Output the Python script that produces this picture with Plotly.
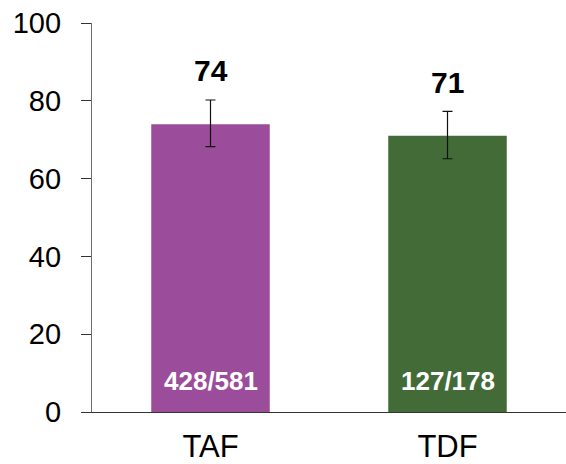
import plotly.graph_objects as go

# Response rates by regimen
categories = ["TAF", "TDF"]
rates = [74, 71]
ci_low = [68.2, 65.1]
ci_high = [80.2, 77.3]
counts = ["428/581", "127/178"]
bar_colors = ["#9B4D9B", "#426B38"]

err_plus = [h - v for h, v in zip(ci_high, rates)]
err_minus = [v - l for v, l in zip(rates, ci_low)]

fig = go.Figure()
fig.add_trace(go.Bar(
    x=categories,
    y=rates,
    width=0.5,
    marker=dict(color=bar_colors, line=dict(width=0)),
    error_y=dict(type="data", symmetric=False, array=err_plus, arrayminus=err_minus,
                 color="#111111", thickness=1.2, width=5),
    hoverinfo="skip",
))

# Value labels above each bar
label_offset = 13.8
for cat, v in zip(categories, rates):
    fig.add_annotation(x=cat, y=v + label_offset, yref="y", text=f"<b>{v}</b>",
                       showarrow=False, yanchor="middle",
                       font=dict(family="Liberation Sans, Arial", size=30, color="#000000"))

# n/N labels inside the bars
for cat, c in zip(categories, counts):
    fig.add_annotation(x=cat, y=8, yref="y", text=f"<b>{c}</b>", showarrow=False,
                       font=dict(family="Liberation Sans, Arial", size=26, color="#FFFFFF"))

fig.update_layout(
    width=566, height=464,
    margin=dict(l=92, r=0, t=23, b=50),
    plot_bgcolor="white", paper_bgcolor="white",
    showlegend=False,
    bargap=0.5,
    font=dict(family="Liberation Sans, Arial", color="#000000"),
    xaxis=dict(range=[-0.5, 1.5], showline=True, linecolor="#333333", linewidth=1.2,
               ticks="", showgrid=False, zeroline=False,
               tickfont=dict(size=31), ticklabelstandoff=7),
    yaxis=dict(range=[0, 100], tickvals=[0, 20, 40, 60, 80, 100], showline=True,
               linecolor="#6E6E6E", linewidth=1.2, ticks="outside", ticklen=10,
               tickcolor="#333333", tickwidth=1.2, showgrid=False, zeroline=False,
               tickfont=dict(size=29), ticklabelstandoff=14),
)

fig.write_html("out.html")
